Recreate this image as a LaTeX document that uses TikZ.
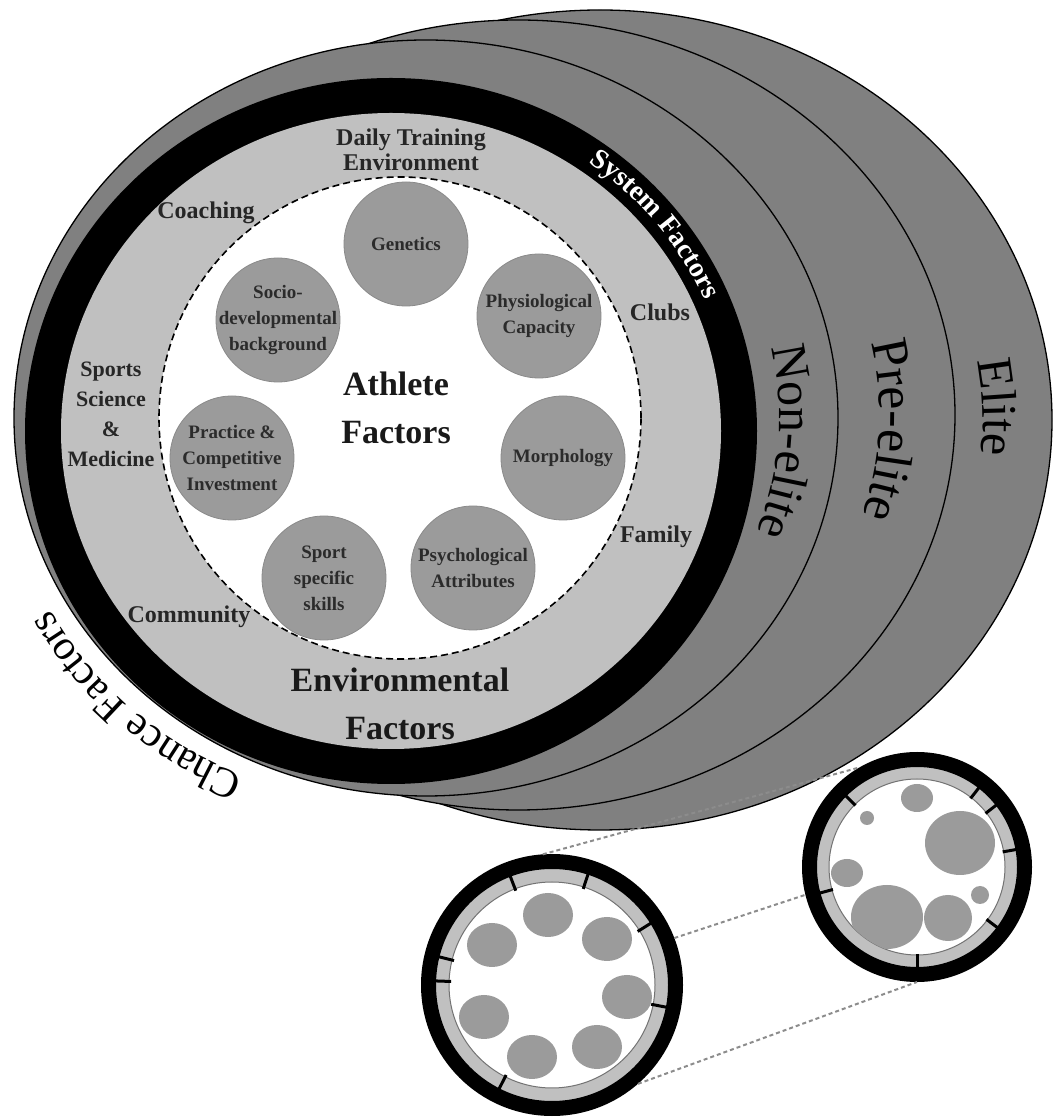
\documentclass[tikz,border=0pt]{standalone}
\usepackage{fontspec}
\setmainfont{Liberation Serif}
\usepackage{tikz}
\usetikzlibrary{decorations.text}
\definecolor{stagegrey}{HTML}{808080}
\definecolor{envgrey}{HTML}{C0C0C0}
\definecolor{discgrey}{HTML}{9B9B9B}
\definecolor{discedge}{HTML}{8A8A8A}
\definecolor{disctext}{HTML}{2B2B2B}
\tikzstyle{stage} = [draw=black, line width=1.3pt, fill=stagegrey]
\tikzstyle{factor} = [circle, minimum size=124pt, inner sep=-20pt, draw=discedge, line width=0.8pt, fill=discgrey, text=disctext, align=center, font=\bfseries\fontsize{19}{26}\selectfont]
\tikzstyle{envlabel} = [align=center, text=black!85, font=\bfseries\fontsize{24}{25}\selectfont]
\tikzstyle{heading} = [align=center, text=black!90, font=\bfseries\fontsize{34}{48}\selectfont]
\tikzstyle{zoomring} = [circle, inner sep=0pt, draw=black, line width=15pt, fill=envgrey]
\tikzstyle{zoomcore} = [circle, inner sep=0pt, draw=black!55, line width=1pt, fill=white]
\tikzstyle{divider} = [black, line width=3pt]
\tikzstyle{minidisc} = [fill=discgrey]
\tikzstyle{zoomlink} = [draw=black!45, line width=2pt, dash pattern=on 4pt off 3pt]

\begin{document}
\begin{tikzpicture}[x=1pt, y=1pt]
\useasboundingbox (0,0) rectangle (1055,1117);
\coordinate (elite) at (600,697);
\coordinate (preelite) at (518,702);
\coordinate (nonelite) at (426,699);
\coordinate (system) at (391,686);
\draw [stage] (elite) ellipse [x radius=452pt, y radius=410pt];
\draw [stage] (preelite) ellipse [x radius=437pt, y radius=395pt];
\draw [stage] (nonelite) ellipse [x radius=412pt, y radius=378pt];
\fill [black] (system) ellipse [x radius=366pt, y radius=353pt];
\fill [envgrey] (system) ellipse [x radius=330pt, y radius=318pt];
\draw [fill=white, line width=1.6pt, dash pattern=on 7pt off 4pt] (400,699) circle [radius=241pt];

\node (genetics) [factor] at (406,873) {Genetics};
\node (physio) [factor] at (539,801) {Physiological\\Capacity};
\node (morpho) [factor] at (563,659) {Morphology};
\node (psych) [factor] at (473,549) {Psychological\\Attributes};
\node (sport) [factor] at (324,539) {Sport\\specific\\skills};
\node (practice) [factor] at (232,659) {Practice \&\\Competitive\\Investment};
\node (socio) [factor] at (278,797) {Socio-\\developmental\\background};

\node (athlete) [heading] at (396,709) {Athlete\\Factors};
\node (environmental) [heading] at (400,413) {Environmental\\Factors};
\node (daily) [envlabel] at (411,967) {Daily Training\\Environment};
\node (coaching) [envlabel] at (206,904) {Coaching};
\node (clubs) [envlabel] at (660,805) {Clubs};
\node (sportsci) [envlabel, font=\bfseries\fontsize{22}{30}\selectfont] at (111,703) {Sports\\Science\\\&\\Medicine};
\node (family) [envlabel] at (656,580) {Family};
\node (community) [envlabel] at (189,500) {Community};

\path [decorate, decoration={text along path, text align=center, text color=white, text={|\bfseries\fontsize{28}{30}\selectfont|System Factors}}] ([shift={(59:342pt and 329pt)}]system) arc [start angle=59, end angle=19, x radius=342pt, y radius=329pt];
\path [decorate, decoration={text along path, text align=center, text={|\fontsize{42}{44}\selectfont|Chance Factors}}] ([shift={(257:388pt and 373pt)}]system) arc [start angle=257, end angle=199, x radius=388pt, y radius=373pt];
\path [decorate, decoration={text along path, text align=center, text={|\fontsize{50}{55}\selectfont|Non-elite}}] ([shift={(18:353pt and 324pt)}]nonelite) arc [start angle=18, end angle=-26, x radius=353pt, y radius=324pt];
\path [decorate, decoration={text along path, text align=center, text={|\fontsize{52}{55}\selectfont|Pre-elite}}] ([shift={(21:362pt and 327pt)}]preelite) arc [start angle=21, end angle=-26, x radius=362pt, y radius=327pt];
\path [decorate, decoration={text along path, text align=center, text={|\fontsize{50}{55}\selectfont|Elite}}] ([shift={(22:383pt and 347pt)}]elite) arc [start angle=22, end angle=-18, x radius=383pt, y radius=347pt];

\node (zoomA) [zoomring, minimum size=247pt] at (552,132) {};
\node (coreA) [zoomcore, minimum size=206pt] at (zoomA) {};
\foreach \a in {111,72,32,-11,243,166,178}
  \draw [divider] ([shift={(\a:101pt)}]zoomA.center) -- ([shift={(\a:118pt)}]zoomA.center);
\foreach \x/\y in {548/202, 492/172, 607/178, 627/120, 484/100, 597/70, 532/60}
  \fill [minidisc] (\x,\y) ellipse [x radius=25, y radius=22];

\node (zoomB) [zoomring, minimum size=215pt] at (917,250) {};
\node (coreB) [zoomcore, minimum size=176pt] at (zoomB) {};
\foreach \a in {135,52,38,10,195,-37,270}
  \draw [divider] ([shift={(\a:87pt)}]zoomB.center) -- ([shift={(\a:102pt)}]zoomB.center);
\begin{scope}
\clip (coreB.center) circle [radius=88pt];
\foreach \x/\y/\rx/\ry in {917/319/16/14, 867/299/7/7, 960/274/35/32, 847/244/16/14, 887/200/36/32, 948/199/24/23, 980/222/9/9}
  \fill [minidisc] (\x,\y) ellipse [x radius=\rx, y radius=\ry];
\end{scope}

\draw [zoomlink] (zoomA.94) -- (zoomB.120);
\draw [zoomlink] (zoomA.21) -- (zoomB.194);
\draw [zoomlink] (zoomA.311) -- (zoomB.270);
\end{tikzpicture}
\end{document}
